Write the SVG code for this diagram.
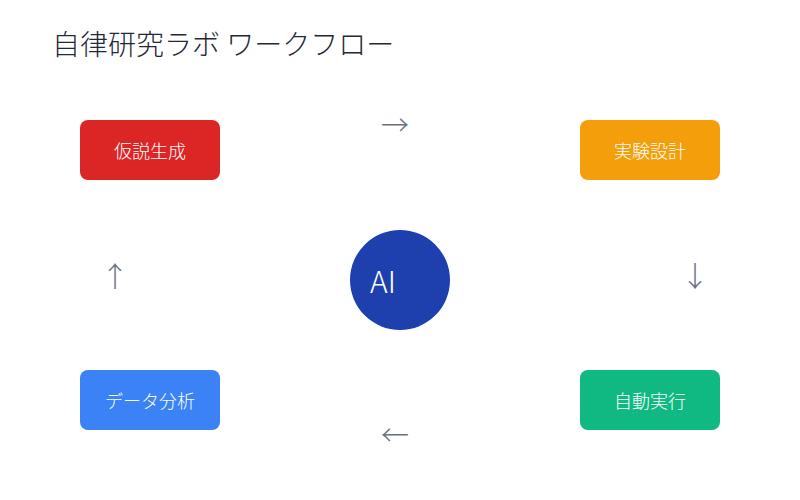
<svg xmlns="http://www.w3.org/2000/svg" width="800" height="500" viewBox="0 0 800 500">
<style>
.t{font-family:"Noto Sans CJK JP","Noto Sans",sans-serif;font-weight:300;}
.lbl{font-family:"Noto Sans CJK JP","Noto Sans",sans-serif;font-weight:300;font-size:18px;fill:#ffffff;text-anchor:middle;dominant-baseline:central;}
.arr{font-family:"Noto Sans CJK JP","DejaVu Sans",sans-serif;font-weight:300;font-size:28px;fill:#6B7280;text-anchor:middle;dominant-baseline:central;}
</style>
<rect width="800" height="500" fill="#ffffff"/>
<text class="t" x="52" y="55" font-size="28" fill="#1F2937">自律研究ラボ ワークフロー</text>
<g id="connectors">
<text class="arr" x="395" y="124">→</text>
<text class="arr" x="695" y="275">↓</text>
<text class="arr" x="395" y="434">←</text>
<text class="arr" x="115" y="275">↑</text>
</g>
<g id="node-hypothesis">
<rect x="80" y="120" width="140" height="60" rx="8" fill="#DC2626"/>
<text class="lbl" x="150" y="150">仮説生成</text>
</g>
<g id="node-design">
<rect x="580" y="120" width="140" height="60" rx="8" fill="#F59E0B"/>
<text class="lbl" x="650" y="150">実験設計</text>
</g>
<g id="node-execute">
<rect x="580" y="370" width="140" height="60" rx="8" fill="#10B981"/>
<text class="lbl" x="650" y="400">自動実行</text>
</g>
<g id="node-analysis">
<rect x="80" y="370" width="140" height="60" rx="8" fill="#3B82F6"/>
<text class="lbl" x="150" y="400">データ分析</text>
</g>
<g id="node-ai">
<circle cx="400" cy="280" r="50" fill="#1E40AF"/>
<text class="t" x="370" y="293" font-size="30" fill="#ffffff">AI</text>
</g>
</svg>
